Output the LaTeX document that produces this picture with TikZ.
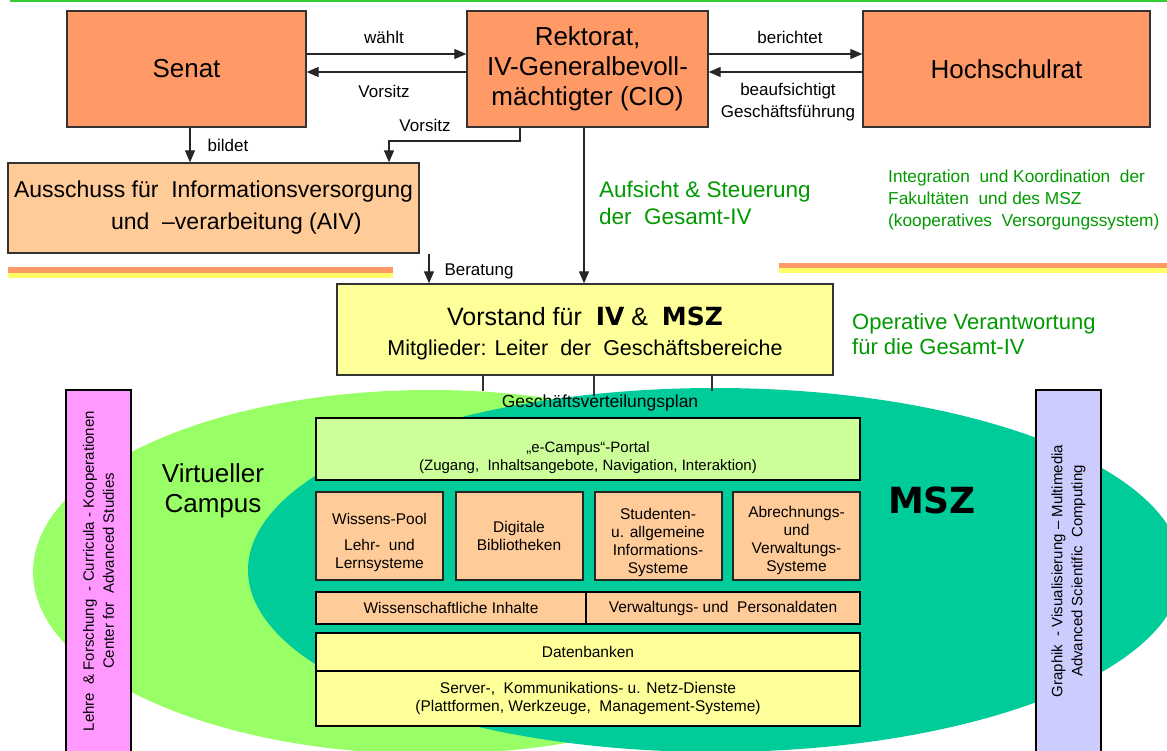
\documentclass[tikz,border=0pt]{standalone}
\usepackage{fontspec}
\setmainfont{Liberation Sans}
\newfontfamily\blackfont{DejaVu Sans}
\usetikzlibrary{arrows.meta}

\definecolor{hiorange}{HTML}{FF9966}
\definecolor{paleorange}{HTML}{FFCC99}
\definecolor{paleyellow}{HTML}{FFFF99}
\definecolor{stripeyellow}{HTML}{FFFF66}
\definecolor{campusgreen}{HTML}{99FF66}
\definecolor{mszgreen}{HTML}{00CC99}
\definecolor{portalgreen}{HTML}{CCFF99}
\definecolor{barpink}{HTML}{FF99FF}
\definecolor{barlilac}{HTML}{CCCCFF}
\definecolor{notegreen}{HTML}{009900}
\definecolor{rulegreen}{HTML}{33CC33}

\newcommand\setfs[2]{\fontsize{#1pt}{#2pt}\selectfont}
% invisible strut that pushes a block of lines downwards inside its box
\newcommand\lowerby[1]{\rule{0pt}{#1}}

\tikzset{
  headbox/.style={draw=black!80, line width=1.3pt, fill=hiorange, inner sep=0pt,
    align=center, font=\setfs{26}{30}},
  plainbox/.style={draw=black!80, line width=1.3pt, inner sep=0pt},
  layerbox/.style={draw=black, line width=2.5pt, inner sep=0pt, align=center,
    font=\setfs{15.5}{18}},
  modbox/.style={draw=black!85, line width=2pt, fill=paleorange, inner sep=0pt,
    minimum width=127pt, minimum height=88pt, align=center, font=\setfs{15.5}{18}},
  sidebar/.style={draw=black, line width=2pt, inner sep=0pt, rotate=90,
    minimum width=362pt, minimum height=65pt, align=center, font=\setfs{15}{20}},
  lbl/.style={inner sep=0pt, font=\setfs{17}{22}, align=center},
  note/.style={inner sep=0pt, text=notegreen, align=left, anchor=west},
  flow/.style={draw=black!85, line width=1.2pt, -{Triangle[length=12pt,width=10pt]}},
  plainline/.style={draw=black!80, line width=1.2pt}
}

\begin{document}
\begin{tikzpicture}[x=1pt,y=-1pt]
\useasboundingbox (0,0) rectangle (1167,750);
\clip (0,0) rectangle (1167,750);

% header rule
\draw[rulegreen, line width=1.6pt] (10,0.8) -- (1167,0.8);

% campus and MSZ areas
\fill[campusgreen] (430,572) ellipse [x radius=397pt, y radius=182pt];
\fill[mszgreen] (715,570) ellipse [x radius=467pt, y radius=182pt];

% governing bodies
\node[headbox, minimum width=239pt, minimum height=116pt] (senat) at (186.5,69) {Senat};
\node[headbox, minimum width=241pt, minimum height=116pt] (rektorat) at (587.5,69)
  {Rektorat,\\IV-Generalbevoll-\\mächtigter (CIO)};
\node[headbox, minimum width=287pt, minimum height=116pt] (hsr) at (1006.5,69) {Hochschulrat};

\node[plainbox, fill=paleorange, minimum width=411pt, minimum height=90pt,
  align=left, font=\setfs{23}{32}] (aiv) at (213.5,208)
  {Ausschuss für\ \ Informationsversorgung\\\hspace*{97pt}und\ \ –verarbeitung (AIV)};

\node[plainbox, fill=paleyellow, minimum width=496pt, minimum height=91pt,
  align=center, font=\setfs{21.5}{30}] (vorstand) at (585,329.5)
  {\lowerby{26pt}{\setfs{25}{30}Vorstand für\ \ {\blackfont\bfseries IV}\ \&\ \ {\blackfont\bfseries MSZ}}\\
   Mitglieder: Leiter\ \ der\ \ Geschäftsbereiche};

% decorative stripes
\fill[hiorange] (8,267) rectangle (393,272.5);
\fill[stripeyellow] (8,272.5) rectangle (393,278);
\fill[hiorange] (779,263) rectangle (1167,268);
\fill[stripeyellow] (779,268) rectangle (1167,273);

% helper coordinates for connector positions
\coordinate (cb) at (190,0);
\coordinate (cv) at (520,0);
\coordinate (vbend) at (389,141);
\coordinate (cr) at (584,0);
\coordinate (ca) at (429,0);

% connectors between the bodies
\draw[flow] ([yshift=15pt]senat.east) -- ([yshift=15pt]rektorat.west);
\draw[flow] ([yshift=-3pt]rektorat.west) -- ([yshift=-3pt]senat.east);
\draw[flow] ([yshift=15pt]rektorat.east) -- ([yshift=15pt]hsr.west);
\draw[flow] ([yshift=-3pt]hsr.west) -- ([yshift=-3pt]rektorat.east);
\draw[flow] (senat.south -| cb) -- (aiv.north -| cb);
\draw[flow] (rektorat.south -| cv) |- (vbend) -- (aiv.north -| vbend);
\draw[flow] (rektorat.south -| cr) -- (vorstand.north -| cr);
\draw[flow] (aiv.south -| ca) -- (vorstand.north -| ca);

\node[lbl] (lwaehlt) at (384,37) {wählt};
\node[lbl] (lvorsitzA) at (384,91) {Vorsitz};
\node[lbl] (lvorsitzB) at (425,125) {Vorsitz};
\node[lbl] (lbildet) at (228,145) {bildet};
\node[lbl] (lberichtet) at (790,37) {berichtet};
\node[lbl] (lbeauf) at (788,102) {beaufsichtigt\\Geschäftsführung};
\node[lbl] (lberatung) at (479,271) {Beratung};

% remarks
\node[note, font=\setfs{22.5}{27}] (aufsicht) at (599,202.5) {Aufsicht \& Steuerung\\der\ \ Gesamt-IV};
\node[note, font=\setfs{17.3}{22}] (integration) at (888,200)
  {Integration\ \ und\ Koordination\ \ der\\Fakultäten\ \ und des MSZ\\(kooperatives\ \ Versorgungssystem)};
\node[note, font=\setfs{22}{25}] (operativ) at (852,334.5) {Operative Verantwortung\\für die Gesamt-IV};

% distribution plan
\coordinate (g1) at (483,391);
\coordinate (g2) at (594,396);
\coordinate (g3) at (712,391);
\draw[plainline] (vorstand.south -| g1) -- (g1);
\draw[plainline] (vorstand.south -| g2) -- (g2);
\draw[plainline] (vorstand.south -| g3) -- (g3);
\node[inner sep=0pt, font=\setfs{17.5}{18}] (gvp) at (600,403) {Geschäftsverteilungsplan};

% area titles
\node[inner sep=0pt, align=center, font=\setfs{26}{30}] (vc) at (213,491) {Virtueller\\Campus};
\node[inner sep=0pt, font=\setfs{36}{40}\blackfont\bfseries] (msz) at (932,500) {MSZ};

% layered service architecture
\node[layerbox, fill=portalgreen, minimum width=544pt, minimum height=62pt,
  font=\setfs{15}{18}] (portal) at (588,449)
  {\lowerby{28pt}„e-Campus“-Portal\\(Zugang,\ \ Inhaltsangebote, Navigation, Interaktion)};

\node[modbox] (m1) at (379.5,536) {\lowerby{24pt}Wissens-Pool\\[8pt]Lehr-\ \ und\\Lernsysteme};
\node[modbox] (m2) at (519,536) {Digitale\\Bibliotheken};
\node[modbox] (m3) at (658,536) {\lowerby{24pt}Studenten-\\u. allgemeine\\Informations-\\Systeme};
\node[modbox] (m4) at (796.5,536) {\lowerby{20pt}Abrechnungs-\\und\\Verwaltungs-\\Systeme};

\node[layerbox, fill=paleorange, minimum width=270pt, minimum height=32pt] (wiss) at (451,608)
  {Wissenschaftliche Inhalte};
\node[layerbox, fill=paleorange, minimum width=274pt, minimum height=32pt] (verw) at (723,608)
  {Verwaltungs- und\ \ Personaldaten};

\node[layerbox, fill=paleyellow, minimum width=544pt, minimum height=38pt] (daten) at (588,652)
  {Datenbanken};
\node[layerbox, fill=paleyellow, minimum width=544pt, minimum height=55pt] (server) at (588,698.5)
  {Server-,\ \ Kommunikations- u. Netz-Dienste\\(Plattformen, Werkzeuge,\ \ Management-Systeme)};

% side bars
\node[sidebar, fill=barpink] (lehre) at (98.5,571)
  {Lehre\ \ \& Forschung\ \ - Curricula - Kooperationen\\Center for\ \ Advanced Studies};
\node[sidebar, fill=barlilac] (graphik) at (1068.5,571)
  {Graphik\ \ - Visualisierung – Multimedia\\Advanced Scientific\ \ Computing};
\end{tikzpicture}
\end{document}
